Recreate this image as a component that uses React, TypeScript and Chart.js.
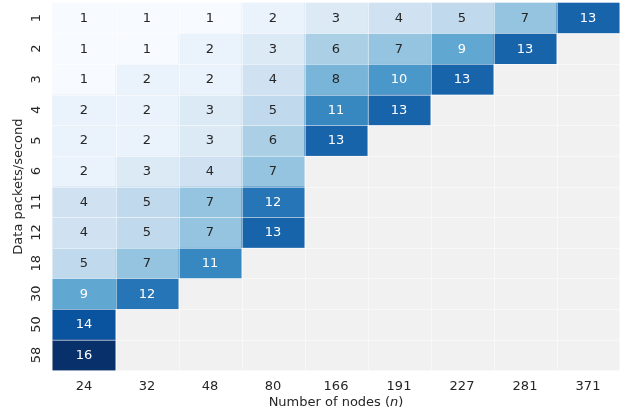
import { useEffect, useRef } from "react";
import { Chart, registerables } from "chart.js";

Chart.register(...registerables);

// Axis categories
const nodeCounts = ["24", "32", "48", "80", "166", "191", "227", "281", "371"];
const packetRates = ["1", "2", "3", "4", "5", "6", "11", "12", "18", "30", "50", "58"];

// Cell values per packet rate (left to right over node counts); missing cells are left out
const rate1 = [1, 1, 1, 2, 3, 4, 5, 7, 13];
const rate2 = [1, 1, 2, 3, 6, 7, 9, 13];
const rate3 = [1, 2, 2, 4, 8, 10, 13];
const rate4 = [2, 2, 3, 5, 11, 13];
const rate5 = [2, 2, 3, 6, 13];
const rate6 = [2, 3, 4, 7];
const rate11 = [4, 5, 7, 12];
const rate12 = [4, 5, 7, 13];
const rate18 = [5, 7, 11];
const rate30 = [9, 12];
const rate50 = [14];
const rate58 = [16];

const rows = [rate1, rate2, rate3, rate4, rate5, rate6, rate11, rate12, rate18, rate30, rate50, rate58];

const V_MIN = 1;
const V_MAX = 16;

// ColorBrewer "Blues" anchors
const BLUES = ["#f7fbff", "#deebf7", "#c6dbef", "#9ecae1", "#6baed6", "#4292c6", "#2171b5", "#08519c", "#08306b"];

function hexToRgb(h: string): number[] {
  return [parseInt(h.slice(1, 3), 16), parseInt(h.slice(3, 5), 16), parseInt(h.slice(5, 7), 16)];
}

function bluesRgb(v: number): number[] {
  const t = Math.max(0, Math.min(1, (v - V_MIN) / (V_MAX - V_MIN)));
  const pos = t * (BLUES.length - 1);
  const i = Math.min(BLUES.length - 2, Math.floor(pos));
  const f = pos - i;
  const a = hexToRgb(BLUES[i]);
  const b = hexToRgb(BLUES[i + 1]);
  return [0, 1, 2].map((k) => a[k] + (b[k] - a[k]) * f);
}

function luminance(rgb: number[]): number {
  const lin = rgb.map((c) => {
    const s = c / 255;
    return s <= 0.03928 ? s / 12.92 : Math.pow((s + 0.055) / 1.055, 2.4);
  });
  return 0.2126 * lin[0] + 0.7152 * lin[1] + 0.0722 * lin[2];
}

type Cell = { x: string; y: string; v: number };

const cells: Cell[] = [];
rows.forEach((row, r) => {
  row.forEach((v, c) => {
    cells.push({ x: nodeCounts[c], y: packetRates[r], v });
  });
});

const FONT = "'DejaVu Sans', sans-serif";
const TEXT_DARK = "#262626";

const heatmapPlugin = {
  id: "heatmapCells",
  beforeDatasetsDraw(chart: any) {
    const { ctx, chartArea } = chart;
    const xs = chart.scales.x;
    const ys = chart.scales.y;
    const cw = (chartArea.right - chartArea.left) / nodeCounts.length;
    const ch = (chartArea.bottom - chartArea.top) / packetRates.length;
    ctx.save();
    ctx.fillStyle = "#f1f1f1";
    ctx.fillRect(chartArea.left, chartArea.top, chartArea.right - chartArea.left, chartArea.bottom - chartArea.top);

    const data = chart.data.datasets[0].data as Cell[];
    data.forEach((d) => {
      const cx = xs.getPixelForValue(nodeCounts.indexOf(d.x));
      const cy = ys.getPixelForValue(packetRates.indexOf(d.y));
      const rgb = bluesRgb(d.v);
      ctx.fillStyle = `rgb(${rgb.map((n) => Math.round(n)).join(",")})`;
      ctx.fillRect(cx - cw / 2, cy - ch / 2, cw, ch);
    });

    // thin cell separators
    ctx.strokeStyle = "rgba(255,255,255,0.5)";
    ctx.lineWidth = 1;
    ctx.beginPath();
    for (let i = 1; i < nodeCounts.length; i++) {
      const px = Math.round(chartArea.left + i * cw) + 0.5;
      ctx.moveTo(px, chartArea.top);
      ctx.lineTo(px, chartArea.bottom);
    }
    for (let j = 1; j < packetRates.length; j++) {
      const py = Math.round(chartArea.top + j * ch) + 0.5;
      ctx.moveTo(chartArea.left, py);
      ctx.lineTo(chartArea.right, py);
    }
    ctx.stroke();
    ctx.restore();
  },
  afterDatasetsDraw(chart: any) {
    const { ctx } = chart;
    const xs = chart.scales.x;
    const ys = chart.scales.y;
    const data = chart.data.datasets[0].data as Cell[];
    ctx.save();
    ctx.font = `13px ${FONT}`;
    ctx.textAlign = "center";
    ctx.textBaseline = "middle";
    data.forEach((d) => {
      const cx = xs.getPixelForValue(nodeCounts.indexOf(d.x));
      const cy = ys.getPixelForValue(packetRates.indexOf(d.y));
      ctx.fillStyle = luminance(bluesRgb(d.v)) > 0.408 ? TEXT_DARK : "#ffffff";
      ctx.fillText(String(d.v), cx, cy + 0.5);
    });
    ctx.restore();
  },
  afterDraw(chart: any) {
    const { ctx, chartArea } = chart;
    const xs = chart.scales.x;
    const ys = chart.scales.y;
    ctx.save();
    ctx.fillStyle = TEXT_DARK;
    ctx.font = `13px ${FONT}`;
    ctx.textAlign = "center";
    ctx.textBaseline = "middle";
    nodeCounts.forEach((lab, i) => {
      ctx.fillText(lab, xs.getPixelForValue(i), chartArea.bottom + 16.5);
    });
    packetRates.forEach((lab, j) => {
      ctx.save();
      ctx.translate(chartArea.left - 16, ys.getPixelForValue(j));
      ctx.rotate(-Math.PI / 2);
      ctx.fillText(lab, 0, 0);
      ctx.restore();
    });

    // y-axis title
    ctx.save();
    ctx.translate(19, (chartArea.top + chartArea.bottom) / 2);
    ctx.rotate(-Math.PI / 2);
    ctx.fillText("Data packets/second", 0, 0);
    ctx.restore();

    // x-axis title with italic n
    const parts: [string, string][] = [
      ["Number of nodes (", `13px ${FONT}`],
      ["n", `oblique 13px ${FONT}`],
      [")", `13px ${FONT}`],
    ];
    let total = 0;
    parts.forEach(([t, f]) => {
      ctx.font = f;
      total += ctx.measureText(t).width;
    });
    let x0 = (chartArea.left + chartArea.right) / 2 - total / 2;
    ctx.textAlign = "left";
    parts.forEach(([t, f]) => {
      ctx.font = f;
      ctx.fillText(t, x0, chartArea.bottom + 32.5);
      x0 += ctx.measureText(t).width;
    });
    ctx.restore();
  },
};

export default function App() {
  const canvasRef = useRef<HTMLCanvasElement | null>(null);

  useEffect(() => {
    if (!canvasRef.current) return;
    const chart = new Chart(canvasRef.current, {
      type: "scatter",
      data: {
        datasets: [
          {
            data: cells as any,
            pointRadius: 0,
            pointHoverRadius: 0,
          },
        ],
      },
      options: {
        animation: false,
        responsive: false,
        devicePixelRatio: 1,
        layout: { padding: { left: 52.5, right: 4.5, top: 2.7, bottom: 41.6 } },
        plugins: { legend: { display: false }, tooltip: { enabled: false } },
        scales: {
          x: { type: "category", labels: nodeCounts, offset: true, display: false },
          y: { type: "category", labels: packetRates, offset: true, display: false },
        },
      },
      plugins: [heatmapPlugin],
    });
    return () => chart.destroy();
  }, []);

  return (
    <div style={{ position: "absolute", left: 0, top: 0, width: 624, height: 412, background: "#ffffff" }}>
      <canvas ref={canvasRef} width={624} height={412} />
    </div>
  );
}
